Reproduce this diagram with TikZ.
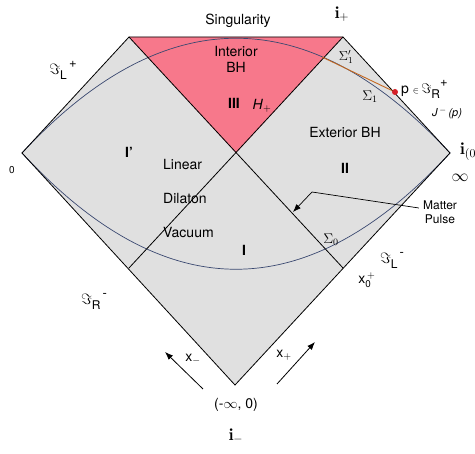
\RequirePackage{fix-cm}
\documentclass[tikz,border=0pt]{standalone}
\usepackage{fontspec}
\setsansfont{TeX Gyre Heros}
\usetikzlibrary{arrows.meta}

\definecolor{bhpink}{RGB}{247,120,139}
\definecolor{regiongray}{RGB}{224,224,224}
\definecolor{slicecol}{RGB}{58,72,112}
\definecolor{raycol}{RGB}{196,104,32}
\definecolor{pointred}{RGB}{214,32,40}

\newcommand{\scri}[2]{$\Im$\raisebox{-5pt}{\fontsize{12}{14}\selectfont\sffamily #1}\raisebox{7pt}{\fontsize{13}{15}\selectfont\sffamily #2}}

\tikzset{
  lbl/.style={font=\sffamily\fontsize{14}{16}\selectfont, inner sep=0pt},
  smalllbl/.style={font=\sffamily\fontsize{11}{13}\selectfont, inner sep=0pt},
  mathlbl/.style={font=\fontsize{17}{19}\selectfont, inner sep=0pt},
  scrilbl/.style={font=\fontsize{15}{17}\selectfont, inner sep=0pt},
  sigmalbl/.style={font=\fontsize{13}{15}\selectfont, inner sep=0pt},
  romannum/.style={font=\sffamily\bfseries\fontsize{14}{16}\selectfont, inner sep=0pt},
  bound/.style={draw=black, line width=0.8pt},
  slice/.style={draw=slicecol, line width=0.7pt},
  ray/.style={draw=raycol, line width=0.9pt},
  pt/.style={circle, fill=pointred, inner sep=0pt, minimum size=6pt},
  lightray/.style={line width=0.8pt, -{Latex[length=8pt,width=6pt]}},
}

\begin{document}
\begin{tikzpicture}[x=1pt, y=-1pt]
  \useasboundingbox (0,0) rectangle (475,454);

  % corners
  \coordinate (bot) at (235,385);
  \coordinate (lft) at (22,153);
  \coordinate (tl) at (129,37);
  \coordinate (tr) at (343,37);
  \coordinate (rgt) at (450,153);
  \coordinate (mid) at (236,153);
  \coordinate (hr) at (343,268);
  \coordinate (hl) at (129,268);

  \fill[regiongray] (bot) -- (lft) -- (tl) -- (tr) -- (rgt) -- cycle;
  \fill[bhpink] (tl) -- (tr) -- (mid) -- cycle;

  % slices
  \draw[slice] (lft) .. controls (164,0) and (308,0) .. (rgt);
  \draw[slice] (lft) .. controls (165,308) and (307,308) .. (rgt);

  \draw[bound] (bot) -- (lft) -- (tl) -- (tr) -- (rgt) -- cycle;
  \draw[bound] (tl) -- (hr);
  \draw[bound] (tr) -- (hl);

  % past of p
  \coordinate (sig) at (322,57);
  \node[pt] (p) at (395,92) {};
  \draw[ray] (sig) -- (p);

  \node[lbl] (sing) at (238,21) {Singularity};
  \node[mathlbl] (iplus) at (342,14) {$\mathbf{i}_{+}$};
  \node[scrilbl] (scriLp) at (63,70) {\scri{L}{\,+}};
  \node[smalllbl, font=\sffamily\fontsize{10}{12}\selectfont] (zero) at (12,170) {0};
  \node[lbl, align=center] (interior) at (236,59) {Interior\\BH};
  \node[romannum] (III) at (234,103) {III};
  \node[lbl] (hplus) at (262,106) {\textit{H}$_{+}$};
  \node[sigmalbl] (sig1p) at (346,57) {$\Sigma_1'$};
  \node[sigmalbl, font=\fontsize{14}{16}\selectfont] (sig1) at (370,97) {$\Sigma_1$};
  \node[lbl, anchor=west] (plbl) at (401,89) {p {\small$\in$}\,\scri{R}{+}};
  \node[smalllbl] (jp) at (447,113) {\textit{J}$^{\,-}$\,\textit{(p)}};
  \node[mathlbl, anchor=west] (izero) at (460,152) {$\mathbf{i}_{(0)}$};
  \node[mathlbl] (infty) at (460,178) {$\infty$};
  \node[lbl] (ext) at (345,133) {Exterior BH};
  \node[romannum] (II) at (345,168) {II};
  \node[romannum] (Iprime) at (129,152) {I\textquoteright};
  \node[lbl, anchor=west] (linear) at (163,165) {Linear};
  \node[lbl, anchor=west] (dilaton) at (163,199) {Dilaton};
  \node[lbl, anchor=west] (vacuum) at (163,233) {Vacuum};
  \node[romannum] (I) at (244,250) {I};
  \node[smalllbl, font=\sffamily\fontsize{12}{14}\selectfont, align=center] (pulse) at (440,212) {Matter\\Pulse};
  \node[sigmalbl, font=\fontsize{14}{16}\selectfont] (sig0) at (331,240) {$\Sigma_0$};
  \node[scrilbl] (scriLm) at (392,260) {\scri{L}{\,-}};
  \node[lbl] (xzero) at (367,280) {x$_{\mathsf{0}}^{\,+}$};
  \node[scrilbl] (scriRm) at (94,301) {\scri{R}{\,-}};

  % matter pulse pointer
  \coordinate (kink) at (312,192);
  \coordinate (hit) at (293,212);
  \draw[lightray, line width=0.7pt] ([shift={(-4,-4)}]pulse.west) -- (kink) -- (hit);

  % null directions
  \coordinate (xm-a) at (203,389);
  \coordinate (xm-b) at (165,352);
  \coordinate (xp-a) at (277,384);
  \coordinate (xp-b) at (315,342);
  \draw[lightray] (xm-a) -- (xm-b);
  \draw[lightray] (xp-a) -- (xp-b);
  \node[lbl] (xminus) at (193,359) {x$_{-}$};
  \node[lbl] (xplus) at (284,355) {x$_{+}$};

  \node[lbl] (past) at (236,405) {(-$\infty$, 0)};
  \node[mathlbl] (iminus) at (236,436) {$\mathbf{i}_{-}$};
\end{tikzpicture}
\end{document}
